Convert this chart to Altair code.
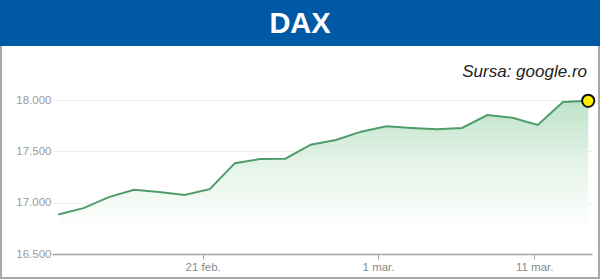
import altair as alt
import pandas as pd

# ---- data ----
dates = ["13 feb.", "14 feb.", "15 feb.", "16 feb.", "19 feb.", "20 feb.", "21 feb.",
         "22 feb.", "23 feb.", "26 feb.", "27 feb.", "28 feb.", "29 feb.", "1 mar.",
         "4 mar.", "5 mar.", "6 mar.", "7 mar.", "8 mar.", "11 mar.", "12 mar.", "13 mar."]
values = [16885, 16947, 17054, 17125, 17103, 17076, 17132, 17385, 17426, 17429, 17565,
          17611, 17692, 17744, 17728, 17715, 17728, 17854, 17828, 17757, 17982, 17993]
tick_pos = [5.72, 12.67, 18.86]
tick_labels = ["21 feb.", "1 mar.", "11 mar."]
y_ticks = [16500, 17000, 17500, 18000]
title_text = "DAX"
source_text = "Sursa: google.ro"

df = pd.DataFrame({"i": list(range(len(values))), "date": dates, "v": values})
last = df.tail(1)

W, H = 540, 195
PL, PT, PR, PB = 52, 59, 8, 25

label_expr = " : ".join(
    [f"datum.value < {tick_pos[k] + 0.5} ? '{tick_labels[k]}'" for k in range(len(tick_pos) - 1)]
    + [f"'{tick_labels[-1]}'"]
)

xscale = alt.Scale(domain=[-0.25, 21.15], nice=False, zero=False)
yscale = alt.Scale(domain=[16500, 18400], nice=False, zero=False)

x_enc = alt.X("i:Q", scale=xscale, axis=alt.Axis(
    values=tick_pos, labelExpr=label_expr, grid=False, domainColor="#a3a3a3",
    domainWidth=1.5, tickColor="#a3a3a3", tickSize=5, labelColor="#8a8a8a",
    labelFontSize=11.5, labelFont="Liberation Sans", labelPadding=2, title=None,
    zindex=1))
y_enc = alt.Y("v:Q", scale=yscale, axis=alt.Axis(
    values=y_ticks, labelExpr="replace(format(datum.value, ',.0f'), ',', '.')",
    grid=True, gridColor="#eeeeee", domain=False, ticks=False, labelColor="#9a9a9a",
    labelFontSize=11.5, labelFont="Liberation Sans", labelPadding=1, title=None,
    zindex=0))

one = pd.DataFrame({"t": [title_text]})
src = pd.DataFrame({"t": [source_text]})

border = alt.Chart(one).mark_rect(fillOpacity=0, stroke="#a8a8a8", strokeWidth=2).encode(
    x=alt.value(-PL + 1), x2=alt.value(W + PR - 1),
    y=alt.value(-PT + 1), y2=alt.value(H + PB - 1))

header = alt.Chart(one).mark_rect(fill="#0059a5").encode(
    x=alt.value(-PL), x2=alt.value(W + PR), y=alt.value(-PT), y2=alt.value(-PT + 46))

title = alt.Chart(one).mark_text(font="Liberation Sans", fontWeight="bold", fontSize=29,
                                 color="white", align="center", baseline="middle").encode(
    x=alt.value(300 - PL), y=alt.value(-PT + 24), text="t:N")

source = alt.Chart(src).mark_text(font="Liberation Sans", fontStyle="italic", fontSize=17,
                                  color="#222222", align="right", baseline="alphabetic").encode(
    x=alt.value(587 - PL), y=alt.value(77 - PT), text="t:N")

grad = alt.Gradient(gradient="linear",
                    stops=[alt.GradientStop(color="#bfe2c8", offset=0),
                           alt.GradientStop(color="#e4f3e8", offset=0.4),
                           alt.GradientStop(color="#ffffff", offset=0.85)],
                    x1=1, x2=1, y1=0, y2=1)

base = alt.Chart(df)
area = base.mark_area(color=grad).encode(x=x_enc, y=y_enc, y2=alt.datum(16500))
line = base.mark_line(color="#4e9d69", strokeWidth=2).encode(x=x_enc, y=y_enc)
dot = alt.Chart(last).mark_point(filled=True, fill="#ffee00", stroke="#111111",
                                 strokeWidth=2, size=150, opacity=1, shape="circle").encode(
    x=x_enc, y=y_enc)

chart = alt.layer(border, header, title, source, area, line, dot).properties(
    width=W, height=H,
    autosize=alt.AutoSizeParams(type="none"),
    padding={"left": PL, "top": PT, "right": PR, "bottom": PB},
    background="white",
).configure_view(stroke=None)

chart.save("out.html", embed_options={"renderer": "svg", "actions": False})
